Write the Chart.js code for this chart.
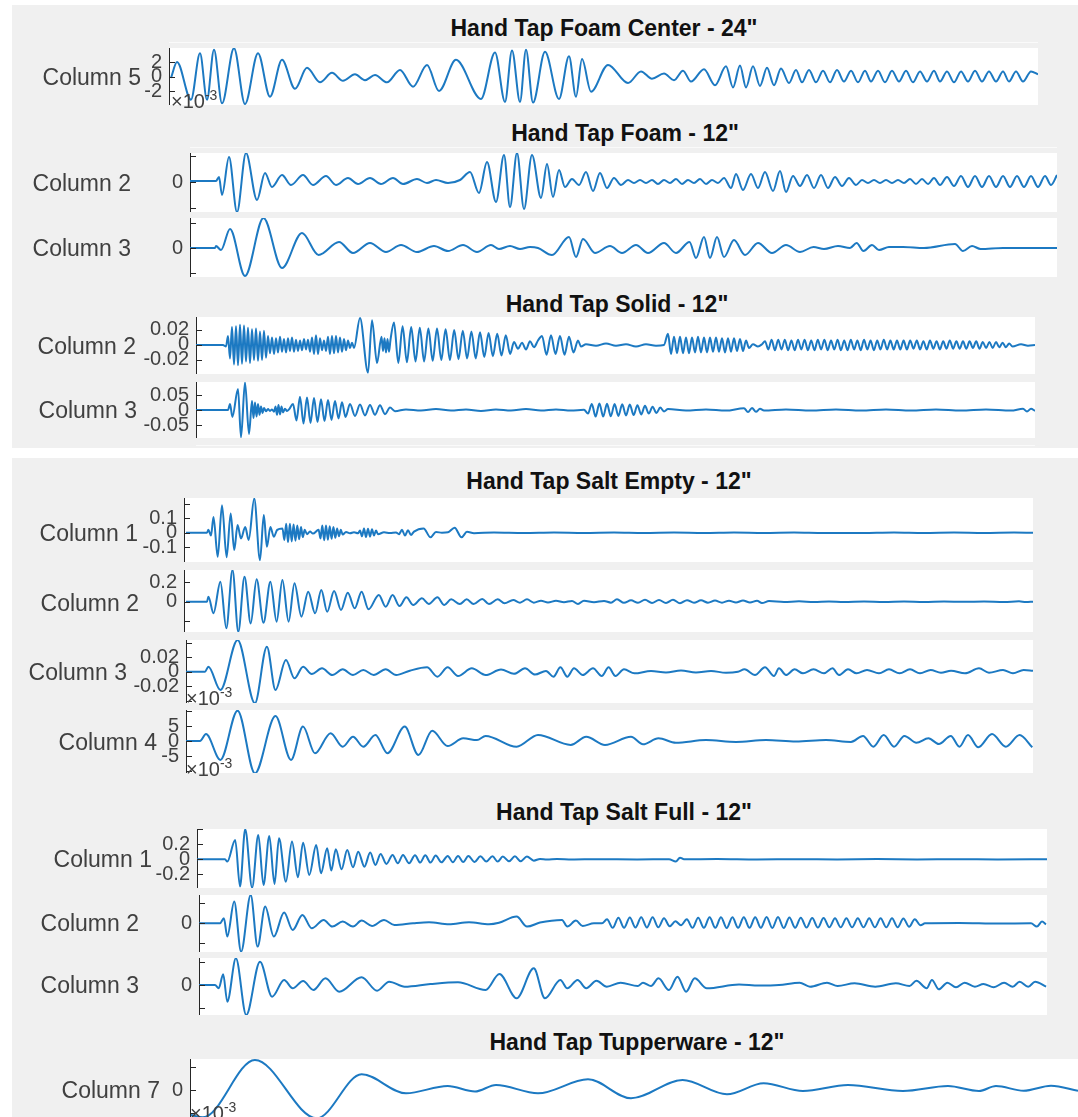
<!DOCTYPE html>
<html>
<head>
<meta charset="utf-8">
<script src="https://cdn.jsdelivr.net/npm/chart.js@4.4.1/dist/chart.umd.min.js"></script>
<style>
html, body { margin: 0; padding: 0; background: #fff; }
body { width: 1078px; height: 1117px; overflow: hidden; position: relative; font-family: "Liberation Sans", Arial, sans-serif; }
.bg { position: absolute; background: #f0f0f0; }
.rule { position: absolute; height: 1px; background: #fafafa; }
.title { position: absolute; font-weight: bold; font-size: 23px; color: #111; white-space: nowrap; transform: translate(-50%, -50%); }
.label { position: absolute; font-size: 23px; color: #404040; white-space: nowrap; transform: translate(-100%, -50%); }
.expo { position: absolute; font-size: 20px; color: #404040; white-space: nowrap; transform: translateY(-50%); }
.expo sup { font-size: 14px; }
canvas { position: absolute; }
</style>
</head>
<body>
<div class="bg" style="left:12px;top:5px;width:1066px;height:443px"></div>
<div class="bg" style="left:12px;top:458px;width:1066px;height:659px"></div>
<div class="rule" style="left:169px;top:42px;width:869px"></div>
<div class="rule" style="left:190px;top:147px;width:867px"></div>
<div class="rule" style="left:196px;top:445px;width:839px"></div>
<script>
// each series: [sample, value] pairs (turning points of the trace)
const foamCenterC5 = [[2,-0.2],[8,2.0],[22,-3.2],[31,3.2],[38,-3.2],[45,3.7],[53,-3.7],[65,3.9],[76,-3.8],[89,3.2],[101,-2.8],[113,2.3],[126,-1.7],[138,1.2],[151,-0.8],[163,0.5],[174,-0.6],[186,0.3],[196,-0.5],[206,0.2],[218,-0.8],[231,0.9],[244,-1.4],[258,1.6],[270,-2.0],[287,2.3],[312,-3.1],[326,3.3],[336,-3.5],[343,3.6],[351,-3.5],[357,3.7],[364,-3.6],[376,3.4],[390,-3.1],[400,2.8],[407,-2.8],[413,2.4],[422,-2.1],[439,1.6],[459,-0.9],[472,0.7],[483,-0.3],[495,0.4],[505,-0.5],[514,0.8],[522,-0.7],[535,1.0],[546,-1.2],[557,1.4],[564,-1.5],[571,1.5],[577,-1.5],[584,1.4],[591,-1.3],[598,1.2],[605,-1.2],[612,1.1],[620,-0.9],[627,0.9],[633,-0.8],[640,0.9],[647,-0.8],[654,0.8],[661,-0.8],[668,0.9],[675,-0.7],[682,0.8],[689,-0.8],[696,0.8],[702,-0.7],[709,0.8],[716,-0.8],[723,0.8],[730,-0.7],[737,0.8],[744,-0.8],[751,0.7],[758,-0.7],[765,0.8],[771,-0.7],[778,0.7],[785,-0.8],[792,0.7],[799,-0.7],[806,0.8],[813,-0.7],[820,0.7],[827,-0.7],[834,0.7],[840,-0.7],[847,0.7],[854,-0.7],[862,0.7],[869,0.3]];

const foamC2 = [[0,1],[26,1],[29,5],[32,-13],[39,25],[47,-30],[56,29],[67,-18],[75,9],[82,-5],[92,7],[101,-3],[113,7],[123,-3],[136,6],[146,-3],[158,4],[168,-2],[180,4],[191,-2],[203,4],[213,-2],[227,3],[237,-1],[246,2],[258,-1],[270,2],[280,10],[289,-11],[297,20],[306,-20],[314,27],[320,-25],[327,29],[334,-27],[342,27],[351,-16],[357,18],[363,-15],[369,12],[375,-5],[382,3],[389,-3],[396,10],[403,-9],[410,9],[417,-6],[424,4],[431,-3],[438,2],[444,-1],[450,2],[456,-1],[462,2],[468,-2],[474,2],[480,-1],[486,3],[492,-2],[498,2],[504,-1],[510,3],[516,-2],[522,2],[528,-1],[534,4],[541,-6],[546,8],[553,-8],[561,8],[568,-6],[575,10],[583,-9],[590,11],[596,-10],[603,6],[610,-4],[617,7],[624,-6],[631,7],[638,-6],[645,5],[652,-4],[659,4],[666,-3],[672,2],[678,-1],[684,2],[690,-1],[696,2],[702,-1],[708,2],[714,-1],[720,3],[726,-2],[732,3],[738,-2],[744,4],[750,-3],[757,5],[764,-4],[771,6],[778,-5],[785,6],[792,-5],[799,6],[806,-5],[813,6],[820,-5],[827,6],[834,-5],[841,6],[848,-5],[855,6],[861,-3],[867,7]];

const foamC3 = [[0,0],[25,0],[26,2],[31,-2],[40,19],[55,-28],[73.5,30],[92,-20],[112,15],[128.6,-7],[149,6],[163,-5],[180,5],[196,-4],[211,3],[227,-4],[244,2],[258,-3],[273,3],[287,-4],[301,3],[309,-1],[320,2],[330,-1],[340,1],[348,0],[362,-7],[379,11],[386,-9],[393,9],[405,-5],[420,2],[432,-5],[446,3],[458,-5],[474,5],[486,-5],[499.5,6],[506,-10],[514,11],[520,-10],[527,11],[534,-9],[544,8],[555,-7],[568,5],[582,-5],[596,3],[610,-4],[623.5,1],[634,-1],[648,2],[660,0],[666.6,5],[673.5,-3],[682,3],[689,-2],[699,1],[713,1],[734,0],[765,4],[773,-3],[782,2],[790.6,-1],[813,0],[867,0]];

const solidC2 = [[0,0],[27,0],[30,-0.002],[32,0.012],[34,-0.018],[36,0.024],[38,-0.026],[40,0.025],[42,-0.027],[44,0.027],[46,-0.025],[48,0.026],[50,-0.022],[52,0.023],[54,-0.024],[56,0.021],[58,-0.02],[60,0.022],[62,-0.021],[64,0.018],[66,-0.02],[68,0.019],[70,-0.017],[72,0.012],[74,-0.011],[76,0.01],[78,-0.012],[80,0.009],[82,-0.01],[84,0.011],[86,-0.009],[88,0.008],[90,-0.01],[92,0.009],[94,-0.008],[96,0.01],[98,-0.009],[100,0.007],[102,-0.008],[104,0.006],[106,-0.007],[108,0.008],[110,-0.006],[112,0.007],[114,-0.009],[116,0.01],[118,-0.012],[120,0.013],[122,-0.012],[124,0.009],[126,-0.007],[128,0.006],[130,-0.008],[132,0.011],[134,-0.012],[136,0.012],[138,-0.011],[140,0.012],[142,-0.01],[144,0.01],[146,-0.009],[148,0.008],[150,-0.007],[152,0.006],[154,-0.004],[156,0.003],[158,-0.004],[164,0.036],[172,-0.037],[176,0.033],[181,-0.024],[185.5,0.011],[187,-0.008],[188.5,0.009],[190,-0.01],[191.5,0.008],[193,-0.009],[194.5,0.007],[198,0.03],[202.3,-0.024],[206.6,0.025],[210.9,-0.023],[215.2,0.024],[219.5,-0.022],[223.8,0.023],[228.1,-0.022],[232.4,0.022],[236.7,-0.021],[241,0.022],[245.3,-0.02],[249.6,0.021],[253.9,-0.02],[258.2,0.02],[262.5,-0.019],[266.8,0.019],[271.1,-0.018],[275.4,0.018],[279.7,-0.018],[284,0.017],[288.3,-0.016],[292.6,0.016],[296.9,-0.015],[301.2,0.015],[305.5,-0.014],[309.8,0.013],[314.1,-0.012],[318,0.004],[322,-0.005],[326,0.003],[330,-0.006],[334,0.005],[338,-0.003],[342,0.006],[346,0.012],[350.5,-0.013],[355,0.013],[359.5,-0.012],[364,0.012],[368.5,-0.013],[373,0.011],[377.5,-0.01],[382,0.006],[385,-0.002],[390,0.001],[400,-0.001],[410,0.002],[420,-0.001],[430,0.001],[440,-0.002],[450,0.001],[460,-0.001],[468,0],[472,0.015],[475,-0.012],[478,0.011],[481,-0.011],[484,0.011],[487,-0.011],[490,0.01],[493,-0.011],[496,0.01],[499,-0.01],[502,0.011],[505,-0.01],[508,0.01],[511,-0.01],[514,0.01],[517,-0.009],[520,0.01],[523,-0.009],[526,0.009],[529,-0.01],[532,0.009],[535,-0.009],[538,0.009],[541,-0.008],[544,0.008],[547,-0.008],[550,0.006],[553,-0.004],[557,0.001],[562,-0.002],[566,0.001],[569,0.005],[572.3,-0.006],[575.6,0.007],[578.9,-0.007],[582.2,0.007],[585.5,-0.006],[588.8,0.007],[592.1,-0.007],[595.4,0.006],[598.7,-0.007],[602,0.007],[605.3,-0.006],[608.6,0.007],[611.9,-0.007],[615.2,0.006],[618.5,-0.007],[621.8,0.007],[625.1,-0.006],[628.4,0.007],[631.7,-0.007],[635,0.006],[638.3,-0.006],[641.6,0.007],[644.9,-0.007],[648.2,0.006],[651.5,-0.007],[654.8,0.007],[658.1,-0.006],[661.4,0.006],[664.7,-0.007],[668,0.007],[671.3,-0.006],[674.6,0.006],[677.9,-0.007],[681.2,0.006],[684.5,-0.006],[687.8,0.007],[691.1,-0.006],[694.4,0.006],[697.7,-0.006],[701,0.006],[704.3,-0.006],[707.6,0.006],[710.9,-0.006],[714.2,0.006],[717.5,-0.005],[720.8,0.006],[724.1,-0.006],[727.4,0.005],[730.7,-0.006],[734,0.006],[737.3,-0.005],[740.6,0.005],[743.9,-0.006],[747.2,0.005],[750.5,-0.005],[753.8,0.006],[757.1,-0.005],[760.4,0.005],[763.7,-0.005],[767,0.005],[770.3,-0.005],[773.6,0.005],[776.9,-0.004],[780.2,0.005],[783.5,-0.005],[786.8,0.004],[790.1,-0.004],[793.4,0.004],[796.7,-0.004],[800,0.004],[803.3,-0.003],[806.6,0.003],[809.9,-0.003],[813.2,0.002],[816.5,-0.002],[825,0.001],[832,-0.001],[839,0]];

const solidC3 = [[0,0],[32,0],[34,0.02],[36.4,-0.023],[42,0.07],[45,-0.091],[49,0.092],[53,-0.08],[56,0.03],[57.5,-0.027],[59,0.025],[60.5,-0.022],[62,0.02],[63.5,-0.016],[65,0.012],[66.5,-0.01],[68,0.007],[70,-0.004],[72,0.003],[74,-0.003],[76,0.002],[78,-0.006],[79.5,0.012],[81,-0.016],[82.5,0.017],[84,-0.015],[85.5,0.012],[87,-0.008],[89,0.004],[91,-0.003],[93,0.002],[97,0.02],[100.5,-0.035],[104,0.044],[107.5,-0.045],[111,0.042],[114.5,-0.043],[118,0.04],[121.5,-0.04],[125,0.036],[128.5,-0.037],[132,0.033],[135.5,-0.033],[139,0.03],[142.5,-0.028],[146,0.026],[149.5,-0.023],[154,0.02],[159,-0.02],[164,0.018],[169,-0.018],[174,0.017],[179,-0.016],[184,0.016],[189,-0.014],[194,0.008],[199,-0.004],[210,0.002],[225,-0.002],[240,0.003],[255,-0.002],[270,0.002],[285,-0.003],[300,0.002],[315,-0.002],[330,0.003],[345,-0.002],[360,0.002],[375,-0.002],[388,0.001],[392,-0.012],[395.8,0.02],[399.6,-0.022],[403.4,0.022],[407.2,-0.022],[411,0.021],[414.8,-0.021],[418.6,0.02],[422.4,-0.02],[426.2,0.019],[430,-0.018],[433.8,0.018],[437.6,-0.017],[441.4,0.016],[445.2,-0.015],[449,0.014],[452.8,-0.012],[456.6,0.011],[460.4,-0.01],[464.2,0.008],[468,-0.005],[472,0.003],[490,-0.002],[510,0.002],[530,-0.002],[548,0.006],[552,-0.007],[556,0.007],[560,-0.006],[564,0.004],[568,-0.002],[590,0.002],[615,-0.002],[640,0.002],[665,-0.002],[690,0.002],[715,-0.002],[740,0.002],[765,-0.002],[790,0.002],[815,-0.002],[827,0.004],[831,-0.005],[835,0.004],[839,-0.003]];

const saltEmptyC1 = [[2,0],[23,0],[24.4,0.02],[27,-0.02],[29.5,0.11],[33.7,-0.167],[38,0.19],[42.6,-0.17],[46.7,0.134],[50.2,-0.12],[53.6,0.053],[57,-0.04],[61.2,0.04],[64.7,-0.05],[70.2,0.238],[76,-0.19],[79.8,0.123],[82.9,-0.097],[86.4,0.04],[89.8,-0.028],[93.2,0.02],[98.5,0.03],[100.3,-0.05],[102.2,0.063],[104,-0.065],[105.9,0.063],[107.7,-0.06],[109.6,0.058],[111.4,-0.055],[113.3,0.05],[115.1,-0.045],[117,0.04],[118.8,-0.03],[120.7,0.02],[123,-0.01],[126,0.008],[129,-0.006],[134.6,0.02],[136.5,-0.04],[138.3,0.05],[140.2,-0.052],[142,0.05],[143.9,-0.048],[145.7,0.045],[147.6,-0.042],[149.4,0.04],[151.3,-0.035],[153.1,0.03],[155,-0.025],[156.8,0.02],[158.7,-0.012],[162,0.005],[166,-0.004],[170,0.004],[174,-0.004],[176,0.015],[178,-0.025],[180,0.03],[182,-0.03],[184,0.028],[186,-0.027],[188,0.025],[190,-0.02],[192,0.015],[194,-0.01],[200,0.003],[206,-0.002],[212,0.002],[215,-0.01],[218,0.02],[221,-0.02],[224,0.018],[227,-0.015],[230,0.008],[239.6,0.03],[246.5,-0.032],[252,0.005],[258,0],[264,0.003],[270.6,0.035],[277.5,-0.032],[283,0.006],[290,-0.003],[310,0.002],[340,-0.002],[370,0.002],[400,-0.001],[430,0.002],[460,-0.002],[490,0.001],[520,-0.002],[550,0.002],[580,-0.001],[610,0.002],[640,-0.002],[680,-0.001],[710,0.002],[740,-0.002],[770,0.001],[800,-0.002],[830,0.001],[849,0]];

const saltEmptyC2 = [[2,0],[23,0],[24.4,0.052],[29.5,-0.12],[36.4,0.207],[42.3,-0.276],[48.5,0.328],[54.3,-0.311],[60.5,0.259],[66.7,-0.225],[72.6,0.231],[79.5,-0.218],[86.4,0.207],[92.6,-0.207],[98.4,0.224],[104.6,-0.207],[110.5,0.19],[117.4,-0.155],[124.2,0.104],[131.1,-0.121],[137.3,0.121],[143.2,-0.104],[150.1,0.11],[157,-0.086],[163.8,0.093],[170.7,-0.069],[177.6,0.104],[184.5,-0.079],[194.8,0.069],[201.7,-0.052],[208.6,0.069],[215.5,-0.045],[222.4,0.045],[229.3,-0.035],[237.9,0.035],[244.8,-0.024],[253.4,0.045],[260.3,-0.035],[267.2,0.024],[275.8,-0.024],[282.7,0.024],[289.6,-0.024],[298.2,0.028],[305,-0.024],[313.7,0.024],[320.5,-0.017],[329.2,0.017],[336,-0.01],[343,0.024],[349.8,-0.01],[357,0.01],[364,-0.008],[372,0.01],[380,-0.006],[388,0.008],[394,-0.024],[400,0.01],[410,-0.005],[420,0.008],[427,-0.01],[433,0.024],[440,-0.012],[447,0.014],[454,-0.012],[461,0.02],[468,-0.014],[475,0.018],[482,-0.014],[489,0.02],[496,-0.016],[503,0.016],[510,-0.012],[517,0.014],[524,-0.01],[531,0.012],[538,-0.01],[545,0.01],[552,-0.008],[559,0.012],[566,-0.008],[573,0.01],[578,-0.014],[585,0.006],[600,-0.004],[615,0.004],[630,-0.004],[645,0.003],[660,-0.003],[680,0.003],[700,-0.003],[720,0.003],[740,-0.003],[760,0.003],[780,-0.002],[800,0.003],[820,-0.003],[835,0.004],[842,-0.004],[849,0]];

const saltEmptyC3 = [[0,0],[19,0],[22.4,0.0069],[34.4,-0.0253],[51.6,0.0437],[68.9,-0.0437],[80.9,0.0345],[89.5,-0.0253],[99.9,0.0161],[108.5,-0.0092],[117.1,0.0069],[125.7,-0.0032],[136,0.0046],[146.3,-0.0046],[156.7,0.0032],[167,-0.0046],[177.3,0.0023],[187.7,-0.0046],[199.7,0.0032],[210.1,-0.0046],[223.8,0.0014],[241,0.006],[251.4,-0.0069],[261.7,0.006],[272,-0.006],[285.8,0.0046],[299.6,-0.0046],[315,0.003],[328,-0.003],[339,0.0046],[349,-0.004],[360,0.001],[367.5,-0.0069],[374.4,0.006],[381.3,-0.0069],[388,0.0046],[396.7,-0.0046],[407,0.0046],[415.7,-0.006],[422.6,0.006],[429.5,-0.006],[438,0.0032],[448.5,-0.0023],[465,0.001],[480,-0.001],[495,0.0015],[510,-0.001],[525,0.001],[540,-0.0015],[552,0],[558.6,0.0032],[569,-0.0046],[579,0.006],[588,-0.006],[593,0.0046],[600,-0.0046],[608.6,0.0032],[617,-0.0023],[627.5,0.0032],[638,-0.0023],[646.5,0.0046],[653,-0.0046],[662,0.0032],[670.6,-0.0023],[681,0.0023],[693,-0.0023],[703,0.0032],[713.6,-0.0023],[724,0.0032],[734,-0.0023],[744.6,0.0023],[755,-0.0014],[765,0.0014],[779,-0.0023],[793,0.0046],[803,-0.0014],[817,0.0023],[827,-0.0023],[837.6,0.0023],[847,0.0014]];

const saltEmptyC4 = [[0,0],[14,0],[20,2.3],[34.4,-6.3],[51.6,10.1],[68.9,-10.8],[89.5,8.3],[105,-6.3],[117,4.8],[129,-4.1],[144.6,2.6],[156.7,-1.9],[167,1.4],[177.3,-1.9],[189.4,2.0],[201.5,-4.1],[218.7,4.8],[232.4,-4.7],[246.2,3.4],[261.7,-1.7],[277.2,0.9],[291,0.3],[299.6,1.7],[330.6,-1.9],[352,2.0],[384.7,-1.3],[400.2,1.4],[419,-1.3],[445,1.4],[457,-1.1],[472.5,0.9],[489.8,-0.6],[520,0.3],[550,-0.3],[580,0.3],[610,-0.2],[640,0.3],[665,-0.3],[677,1.7],[687.4,-1.9],[697.7,2.0],[708,-1.9],[718.4,1.7],[730.4,-0.6],[742.4,0.9],[752.8,-1.0],[764.8,1.7],[773.4,-1.9],[782,2.0],[792.3,-2.1],[806,2.3],[819.8,-1.9],[833.6,2.0],[846.3,-2.1]];

const saltFullC1 = [[0,0],[28,0],[30.3,-0.031],[38.2,0.258],[43,-0.364],[48.2,0.4],[55.1,-0.378],[61.3,0.324],[66.5,-0.342],[72.3,0.311],[77.5,-0.329],[82,0.28],[88.9,-0.298],[95,0.236],[100.9,-0.24],[106.1,0.222],[112.3,-0.209],[119.2,0.191],[124,-0.187],[130.2,0.147],[134.3,-0.151],[138.8,0.133],[144.6,-0.133],[150.2,0.124],[156,-0.107],[161.2,0.102],[167.4,-0.098],[173.2,0.089],[178.4,-0.076],[183.6,0.071],[189.4,-0.062],[195.6,0.058],[200.8,-0.053],[206,0.058],[212.1,-0.053],[218,0.053],[223.2,-0.044],[228.3,0.053],[233.5,-0.044],[238.7,0.049],[244.5,-0.04],[250.7,0.044],[255.9,-0.04],[261,0.044],[266.2,-0.036],[271.4,0.044],[277.6,-0.036],[283.4,0.04],[289.3,-0.031],[295.5,0.04],[300.7,-0.031],[305.8,0.036],[312,-0.027],[317.9,0.04],[323.7,-0.027],[329.9,0.036],[336.8,-0.018],[343,0.005],[350,-0.004],[360,0.003],[375,-0.002],[400,0.002],[440,-0.002],[472,0],[478.8,-0.031],[483,0.022],[487,0],[520,0.003],[560,-0.003],[600,0.002],[640,-0.002],[680,0.003],[720,-0.002],[760,0.002],[800,-0.003],[850,0]];

const saltFullC2 = [[0,0],[21,0],[24.9,5],[28.3,-13.3],[35.2,21.7],[42.1,-28.3],[51.7,28.3],[58.6,-23.3],[66.2,16.7],[74.8,-13.3],[85.1,10.7],[93.7,-6.7],[103.4,8.3],[112.7,-5],[124.7,3.3],[133.3,-3.3],[143.7,1.7],[154,-3.3],[162.6,2.7],[173,-2.7],[185,3.3],[195.4,-1.7],[214,0],[230,1],[250,-1],[270,1],[290,-1],[300,0.5],[317.6,6.7],[328,-3.3],[341,0.7],[363,3.3],[368.3,-3.3],[376.9,2.7],[383.7,-2.7],[395,0],[403,0],[408,4],[413.7,-4.5],[419.4,5.5],[425.1,-4.5],[430.8,5.7],[436.5,-4.3],[442.2,6],[447.9,-4.3],[453.6,6],[459.3,-4],[465,5],[470.7,-3],[476.4,2],[482,-2],[487.8,4],[493.5,-4.5],[499.2,5.5],[504.9,-4.5],[510.6,6],[516.3,-4.5],[522,6],[527.7,-4.7],[533.4,6],[539.1,-4.5],[544.8,6],[550.5,-4.5],[556.2,6],[561.9,-4.5],[567.6,6.3],[573.3,-4.7],[579,6.3],[584.7,-4.7],[590.4,5.7],[596.1,-4.5],[601.8,5.5],[607.5,-4.3],[613.2,5.3],[618.9,-4.3],[624.6,5.3],[630.3,-4],[636,5],[641.7,-4],[647.4,5],[653.1,-4],[658.8,5],[664.5,-4],[670.2,5],[675.9,-4],[681.6,5],[687.3,-4],[693,5],[698.7,-4],[704.4,4.7],[710.1,-3.5],[715.8,4],[721.5,-2],[726,0],[760,0.3],[800,-0.3],[832,0],[837.9,-3.3],[843,1.7],[847,-1]];

const saltFullC3 = [[0,0],[16,0],[19.7,-3.3],[24.2,10.7],[28.3,-16.7],[36.9,26.7],[47.2,-30],[61,23.3],[73.1,-11.7],[85.1,5],[93.7,-3.3],[104.1,4],[114.4,-5],[126.5,6.7],[140.2,-6.7],[162.6,7.7],[178.1,-5.7],[190.2,3.3],[205.7,-1.7],[231.5,1],[259,2.7],[286.6,-5],[300.4,11],[317.6,-13.3],[334.8,16.7],[345.9,-13.3],[361.4,5],[368.3,-3.3],[378.6,5],[387.2,-3.3],[397.5,4.3],[407.8,-1.7],[421.6,2.3],[438.8,-1],[444,2.3],[452,-1],[459.5,6.7],[469.9,-5],[478.5,8.3],[487.1,-6.7],[495.7,6.7],[507.8,-3.3],[540,0.5],[560,-0.5],[580,0],[600.6,2.3],[611,-1.7],[628,2.3],[638.6,-1],[655.6,1.7],[676.3,-1.7],[696.8,1.7],[710.5,-1],[717.4,4.3],[727.7,-3.3],[732.9,5],[739.8,-4.3],[748.4,2.3],[757,-2.3],[765.6,2.3],[775.9,-1.7],[784.5,1],[794.8,-2.3],[805.1,2.3],[813.7,-1.7],[820.6,3.3],[829.2,-1.7],[836.1,3.3],[847.1,-1.7]];

const tupperwareC7 = [[1,-25],[13,-27.3],[64.9,30],[126.8,-28.3],[171.6,15.7],[216,-3.3],[257.7,4],[285,-1.5],[306,5],[348,-3.3],[398,10.7],[441,-8.3],[492.6,10],[537,-4.3],[573.6,6.7],[613,-1],[658,5],[713,-1],[758,4],[789,-1],[806,4],[833.6,-0.7],[861,4.3],[888,-0.7]];

// titles and panel layout
const titles = [
  {text: 'Hand Tap Foam Center - 24"', x: 604, y: 28},
  {text: 'Hand Tap Foam - 12"', x: 625, y: 133},
  {text: 'Hand Tap Solid - 12"', x: 617, y: 304},
  {text: 'Hand Tap Salt Empty - 12"', x: 609, y: 481},
  {text: 'Hand Tap Salt Full - 12"', x: 624, y: 812},
  {text: 'Hand Tap Tupperware - 12"', x: 637, y: 1042}
];

const expoLabels = [
  {x: 171, y: 100},
  {x: 186, y: 697},
  {x: 186, y: 768},
  {x: 190, y: 1112}
];

const panels = [
  {series: foamCenterC5, label: 'Column 5', axisX: 169, right: 1038, top: 48, bottom: 105, min: -3.93, max: 3.93, ticks: [-2, 0, 2], shown: [-2, 0, 2], labelRight: 141, labelY: 77},
  {series: foamC2, label: 'Column 2', axisX: 190, right: 1057, top: 153, bottom: 212, min: -30, max: 29, ticks: [-25.5, 0, 25.5], shown: [0], labelRight: 131, labelY: 183},
  {series: foamC3, label: 'Column 3', axisX: 190, right: 1057, top: 218, bottom: 277, min: -29, max: 30, ticks: [-24.5, 0, 24.5], shown: [0], labelRight: 131, labelY: 248},
  {series: solidC2, label: 'Column 2', axisX: 196, right: 1035, top: 317, bottom: 374, min: -0.0387, max: 0.0373, ticks: [-0.02, 0, 0.02], shown: [-0.02, 0, 0.02], labelRight: 136, labelY: 346},
  {series: solidC3, label: 'Column 3', axisX: 196, right: 1035, top: 382, bottom: 438, min: -0.0933, max: 0.0933, ticks: [-0.05, 0, 0.05], shown: [-0.05, 0, 0.05], labelRight: 137, labelY: 410},
  {series: saltEmptyC1, label: 'Column 1', axisX: 184, right: 1033, top: 498, bottom: 562, min: -0.203, max: 0.241, ticks: [-0.2, -0.1, 0, 0.1, 0.2], shown: [-0.1, 0, 0.1], labelRight: 138, labelY: 533},
  {series: saltEmptyC2, label: 'Column 2', axisX: 184, right: 1033, top: 570, bottom: 632, min: -0.314, max: 0.328, ticks: [-0.2, 0, 0.2], shown: [0, 0.2], labelRight: 139, labelY: 603},
  {series: saltEmptyC3, label: 'Column 3', axisX: 186, right: 1033, top: 640, bottom: 703, min: -0.0432, max: 0.0437, ticks: [-0.04, -0.02, 0, 0.02, 0.04], shown: [-0.02, 0, 0.02], labelRight: 127, labelY: 672},
  {series: saltEmptyC4, label: 'Column 4', axisX: 186, right: 1033, top: 710, bottom: 773, min: -10.67, max: 10.33, ticks: [-10, -5, 0, 5, 10], shown: [-5, 0, 5], labelRight: 157, labelY: 742},
  {series: saltFullC1, label: 'Column 1', axisX: 197, right: 1047, top: 829, bottom: 888, min: -0.383, max: 0.404, ticks: [-0.4, -0.2, 0, 0.2, 0.4], shown: [-0.2, 0, 0.2], labelRight: 152, labelY: 859},
  {series: saltFullC2, label: 'Column 2', axisX: 199, right: 1047, top: 895, bottom: 952, min: -28.7, max: 28.3, ticks: [-20, 0, 20], shown: [0], labelRight: 139, labelY: 923},
  {series: saltFullC3, label: 'Column 3', axisX: 199, right: 1047, top: 958, bottom: 1015, min: -30, max: 27, ticks: [-22.7, 0, 22.7], shown: [0], labelRight: 139, labelY: 985},
  {series: tupperwareC7, label: 'Column 7', axisX: 190, right: 1078, top: 1059, bottom: 1121, min: -31, max: 31, ticks: [-23, 0, 23], shown: [0], labelRight: 160, labelY: 1090}
];

const TICK_ROOM = 70;

const panelDeco = {
    id: 'panelDeco',
    beforeDraw(chart) {
        const a = chart.chartArea;
        const ctx = chart.ctx;
        ctx.save();
        ctx.fillStyle = '#ffffff';
        ctx.fillRect(a.left, a.top, a.right - a.left, a.bottom - a.top);
        ctx.restore();
    },
    afterDraw(chart) {
        const a = chart.chartArea;
        const y = chart.scales.y;
        const ctx = chart.ctx;
        ctx.save();
        ctx.strokeStyle = '#262626';
        ctx.lineWidth = 1;
        y.ticks.forEach(t => {
            const py = Math.round(y.getPixelForValue(t.value)) + 0.5;
            ctx.beginPath();
            ctx.moveTo(a.left, py);
            ctx.lineTo(a.left + 6, py);
            ctx.stroke();
        });
        ctx.restore();
    }
};

function addDiv(cls, html, x, y) {
    const d = document.createElement('div');
    d.className = cls;
    d.innerHTML = html;
    d.style.left = x + 'px';
    d.style.top = y + 'px';
    document.body.appendChild(d);
}

function makePanel(p) {
    const canvasLeft = p.axisX - TICK_ROOM;
    const canvas = document.createElement('canvas');
    canvas.width = p.right - canvasLeft;
    canvas.height = p.bottom - p.top;
    canvas.style.left = canvasLeft + 'px';
    canvas.style.top = p.top + 'px';
    document.body.appendChild(canvas);

    addDiv('label', p.label, p.labelRight, p.labelY);

    new Chart(canvas.getContext('2d'), {
        type: 'line',
        data: {
            datasets: [{
                data: p.series.map(([x, y]) => ({x, y})),
                borderColor: '#1c79c2',
                borderWidth: 2,
                pointRadius: 0,
                fill: false,
                cubicInterpolationMode: 'monotone'
            }]
        },
        options: {
            responsive: false,
            animation: false,
            events: [],
            layout: {padding: 0},
            plugins: {legend: {display: false}, tooltip: {enabled: false}},
            scales: {
                x: {type: 'linear', display: false, min: 0, max: p.right - p.axisX},
                y: {
                    type: 'linear',
                    min: p.min,
                    max: p.max,
                    afterBuildTicks: scale => {
                        scale.ticks = p.ticks.map(v => ({value: v}));
                    },
                    afterFit: scale => {
                        scale.width = TICK_ROOM;
                        scale.paddingTop = 0;
                        scale.paddingBottom = 0;
                    },
                    grid: {drawOnChartArea: false, drawTicks: false},
                    border: {display: true, color: '#262626', width: 1},
                    ticks: {
                        autoSkip: false,
                        padding: 7,
                        color: '#404040',
                        font: {family: 'Liberation Sans', size: 20},
                        callback: value => p.shown.includes(value) ? String(value) : ''
                    }
                }
            }
        },
        plugins: [panelDeco]
    });
}

titles.forEach(t => addDiv('title', t.text.replace(/"/g, '&quot;'), t.x, t.y));
panels.forEach(makePanel);
expoLabels.forEach(e => addDiv('expo', '&times;10<sup>-3</sup>', e.x, e.y));
</script>
</body>
</html>
